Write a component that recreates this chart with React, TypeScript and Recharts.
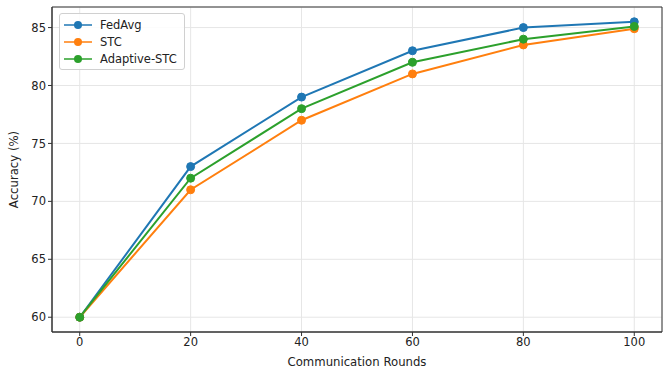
import React from 'react';
import {
  LineChart,
  Line,
  XAxis,
  YAxis,
  CartesianGrid,
  ReferenceArea,
} from 'recharts';

const rounds = [0, 20, 40, 60, 80, 100];
const fedAvg = [60, 73, 79, 83, 85, 85.5];
const stc = [60, 71, 77, 81, 83.5, 84.9];
const adaptiveStc = [60, 72, 78, 82, 84, 85.1];
const xTicks = [0, 20, 40, 60, 80, 100];
const yTicks = [60, 65, 70, 75, 80, 85];

const series = [
  { key: 'fedAvg', name: 'FedAvg', color: '#1f77b4' },
  { key: 'stc', name: 'STC', color: '#ff7f0e' },
  { key: 'adaptiveStc', name: 'Adaptive-STC', color: '#2ca02c' },
];

const data = rounds.map((r, i) => ({
  round: r,
  fedAvg: fedAvg[i],
  stc: stc[i],
  adaptiveStc: adaptiveStc[i],
}));

const font = '"DejaVu Sans", sans-serif';
const tickStyle = { fill: '#222', fontSize: 11.5, fontFamily: font };

// legend sits inside the plot, top-left, like matplotlib's loc="upper left"
const LegendBox = () => (
  <div
    style={{
      position: 'absolute',
      left: 59,
      top: 13,
      border: '1px solid #d0d0d0',
      borderRadius: 3,
      background: 'rgba(255,255,255,0.85)',
      padding: '2px 7px 2px 4px',
      fontFamily: font,
      fontSize: 11.5,
      color: '#222',
    }}
  >
    {series.map((s) => (
      <div key={s.key} style={{ display: 'flex', alignItems: 'center', height: 17 }}>
        <svg width={28} height={12} style={{ marginRight: 8 }}>
          <line x1={0} y1={6} x2={28} y2={6} stroke={s.color} strokeWidth={1.5} />
          <circle cx={14} cy={6} r={4} fill={s.color} />
        </svg>
        <span>{s.name}</span>
      </div>
    ))}
  </div>
);

export default function App() {
  return (
    <div style={{ position: 'absolute', left: 0, top: 0, width: 669, height: 372, background: '#fff' }}>
      <LineChart
        width={669}
        height={372}
        data={data}
        margin={{ top: 7, right: 7, bottom: 0, left: 0 }}
      >
        <CartesianGrid stroke="#e6e6e6" strokeWidth={1} />
        <XAxis
          dataKey="round"
          type="number"
          domain={[-5, 105]}
          ticks={xTicks}
          height={40}
          tick={tickStyle}
          tickSize={4}
          stroke="#333"
          label={{
            value: 'Communication Rounds',
            position: 'insideBottom',
            offset: 6,
            style: { fill: '#222', fontSize: 11.7, fontFamily: font },
          }}
        />
        <YAxis
          type="number"
          domain={[58.725, 86.775]}
          ticks={yTicks}
          width={52}
          tick={tickStyle}
          tickSize={4}
          stroke="#333"
          allowDataOverflow
          label={{
            value: 'Accuracy (%)',
            angle: -90,
            position: 'insideLeft',
            offset: 14,
            style: { fill: '#222', fontSize: 11.7, fontFamily: font, textAnchor: 'middle' },
          }}
        />
        <ReferenceArea
          x1={-5}
          x2={105}
          y1={58.725}
          y2={86.775}
          fill="none"
          stroke="#333"
          strokeWidth={1}
          fillOpacity={0}
        />
        {series.map((s) => (
          <Line
            key={s.key}
            dataKey={s.key}
            name={s.name}
            type="linear"
            stroke={s.color}
            strokeWidth={2}
            dot={{ r: 4, fill: s.color, stroke: s.color, strokeWidth: 1 }}
            activeDot={false}
            isAnimationActive={false}
          />
        ))}
      </LineChart>
      <LegendBox />
    </div>
  );
}
